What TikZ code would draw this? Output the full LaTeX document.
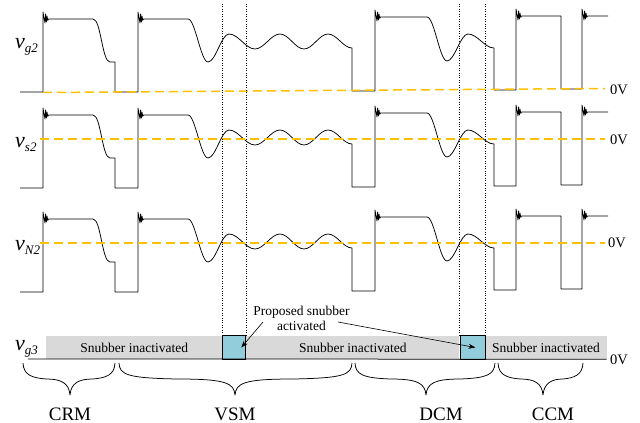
\documentclass[tikz,border=0pt]{standalone}
\usepackage{fontspec}
\setmainfont{Liberation Serif}
\usetikzlibrary{arrows.meta,positioning}
\definecolor{zeroline}{HTML}{FFC000}
\definecolor{offfill}{HTML}{D9D9D9}
\definecolor{onfill}{HTML}{92CDDC}
\newcommand\ringing{-- ++(2,11) -- ++(0.6,-9) -- ++(0.8,8) -- ++(0.6,-6) -- ++(0.8,4.5) -- ++(0.7,-1.5)}
\begin{document}
\begin{tikzpicture}[x=1pt,y=-1pt,
    wave/.style={line width=0.75pt,line join=round},
    zero/.style={zeroline,line width=1.5pt,dash pattern=on 9pt off 5pt},
    guide/.style={line width=0.45pt,dotted},
    sig/.style={anchor=base west,inner sep=0pt,font=\fontsize{22}{22}\selectfont\itshape},
    volt/.style={anchor=base west,inner sep=0pt,font=\fontsize{14.5}{14.5}\selectfont},
    offbox/.style={fill=offfill,minimum height=23pt,inner sep=0pt,font=\fontsize{13.5}{15}\selectfont},
    onbox/.style={draw,fill=onfill,line width=0.75pt,minimum height=24pt,inner sep=0pt},
    mode/.style={anchor=base,inner sep=0pt,font=\fontsize{19}{19}\selectfont}]
  \useasboundingbox (0,0) rectangle (640,423);

  \foreach \f in {19,115,219}
    \draw[wave,shift={(0,\f)}]
      (20,73) -- (43,73) -- (43,-7) \ringing -- (93,0)
      .. controls (101,0) and (102,43) .. (110,43) -- (115,43) -- (115,73) -- (138,73)
      -- (138,-7) \ringing -- (188,0)
      .. controls (195.3,0) and (200.7,43) .. (208,43)
      .. controls (215.6,43) and (221.4,15) .. (229,15)
      .. controls (238.4,15) and (245.6,30) .. (255,30)
      .. controls (264,30) and (271,15) .. (280,15)
      .. controls (288.7,15) and (295.3,30) .. (304,30)
      .. controls (312.7,30) and (319.3,15) .. (328,15)
      .. controls (336.7,15) and (343.3,29) .. (352,29)
      -- (352,72) -- (375,72) -- (375,-9) \ringing -- (427,-2)
      .. controls (434.3,-2) and (439.7,42) .. (447,42)
      .. controls (454.6,42) and (460.4,15) .. (468,15)
      .. controls (477.4,15) and (484.6,29) .. (494,29)
      -- (494,71) -- (516,71) -- (516,-10) \ringing -- (561,-3)
      -- (561,70) -- (582,70) -- (582,-10) \ringing -- (608,-3);

  \draw[zero] (43,92.5) -- (605,88.5);
  \draw[zero] (40,139) -- (605,139);
  \draw[zero] (40,243) -- (605,243);

  \node[sig] (vg2) at (15,48) {v\raisebox{-4pt}{\fontsize{13}{13}\selectfont g2}};
  \node[sig] (vs2) at (15,147) {v\raisebox{-4pt}{\fontsize{13}{13}\selectfont s2}};
  \node[sig] (vn2) at (15,250) {v\raisebox{-4pt}{\fontsize{13}{13}\selectfont N2}};
  \node[sig] (vg3) at (15,350) {v\raisebox{-4pt}{\fontsize{13}{13}\selectfont g3}};

  \node[volt] (z1) at (610,94) {0V};
  \node[volt] (z2) at (610,144) {0V};
  \node[volt] (z3) at (608,247) {0V};
  \node[volt] (z4) at (610,364) {0V};

  \node[offbox,anchor=west,minimum width=176pt] (off1) at (46,347.5) {Snubber inactivated};
  \node[onbox,minimum width=23pt,right=0pt of off1] (on1) {};
  \node[offbox,minimum width=213pt,right=0pt of on1] (off2) {Snubber inactivated};
  \node[onbox,minimum width=25pt,right=0pt of off2] (on2) {};
  \node[offbox,minimum width=121pt,right=0pt of on2] (off3) {Snubber inactivated};
  \draw[wave] (28,359) -- (off3.south east);

  \draw[guide] (on1.north west) -- ++(0,-333);
  \draw[guide] (on1.north east) -- ++(0,-333);
  \draw[guide] (on2.north west) -- ++(0,-333);
  \draw[guide] (on2.north east) -- ++(0,-333);

  \node[align=center,inner sep=0pt,font=\fontsize{13.5}{15}\selectfont] (note) at (301.5,318) {Proposed snubber\\activated};
  \coordinate (a1) at (263,322);
  \coordinate (a2) at (338,322);
  \begin{scope}[-{Stealth[length=7pt,width=5pt]},line width=0.6pt]
    \draw (a1) -- ([xshift=7pt]on1.center);
    \draw (a2) -- ([xshift=3pt]on2.center);
  \end{scope}

  \foreach \a/\m/\b in {23/70/115,119/235/352,355/426/495,498/543/583}
    \draw[wave] (\a,363) .. controls (\a+0.5,375) and (\a+9,378) .. ({(\a+\m)/2},379)
      .. controls (\m-9,379) and (\m-1,383) .. (\m,395)
      .. controls (\m+1,383) and (\m+9,379) .. ({(\m+\b)/2},379)
      .. controls (\b-9,378) and (\b-0.5,375) .. (\b,363);

  \node[mode] (crm) at (70,420) {CRM};
  \node[mode] (vsm) at (235,420) {VSM};
  \node[mode] (dcm) at (441,420) {DCM};
  \node[mode] (ccm) at (553,420) {CCM};
\end{tikzpicture}
\end{document}
